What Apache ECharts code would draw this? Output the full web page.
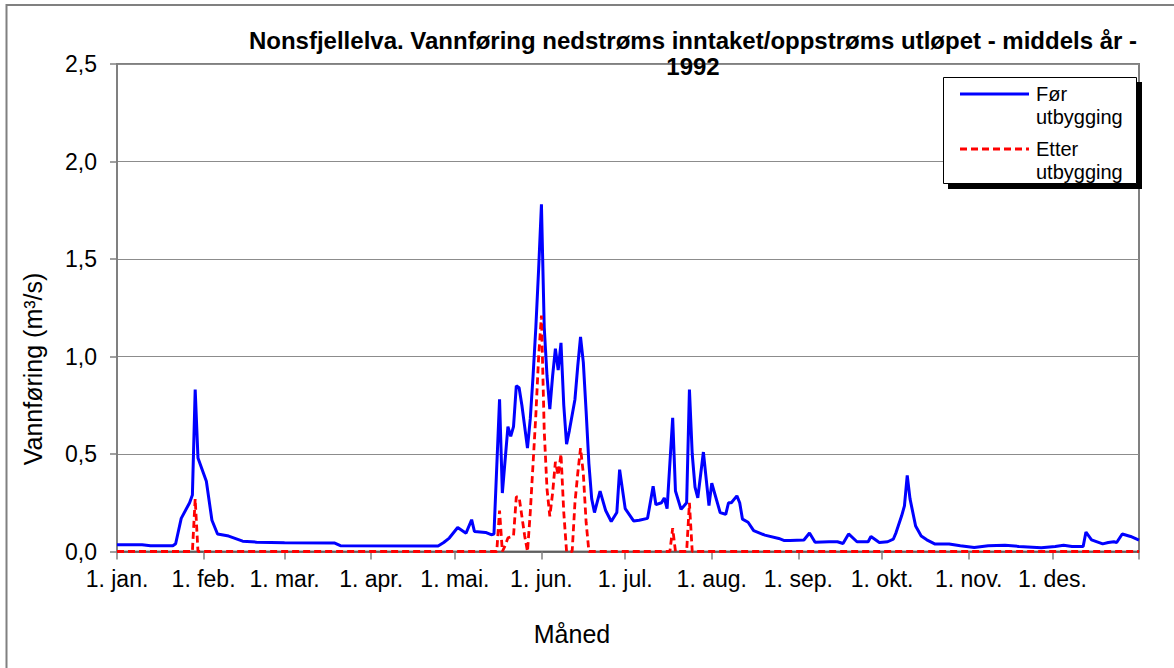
<!DOCTYPE html>
<html>
<head>
<meta charset="utf-8">
<script src="https://cdn.jsdelivr.net/npm/echarts@6/dist/echarts.min.js"></script>
<style>
  html, body { margin: 0; padding: 0; background: #fff; }
  #chart { width: 1174px; height: 668px; }
</style>
</head>
<body>
<div id="chart"></div>
<script>
// Day-of-year (1992, leap year) where each month starts, and the axis labels
const monthStarts = [0, 31, 60, 91, 121, 152, 182, 213, 244, 274, 305, 335, 366];
const monthLabels = ['1. jan.', '1. feb.', '1. mar.', '1. apr.', '1. mai.', '1. jun.',
                     '1. jul.', '1. aug.', '1. sep.', '1. okt.', '1. nov.', '1. des.'];
const yTicks = [0, 0.5, 1.0, 1.5, 2.0, 2.5];

// Discharge before development (m³/s), day of year -> value
const forDays = [0, 9, 12, 20, 21, 23, 26, 27, 28, 29, 31, 32, 34, 36, 40, 45, 50, 60, 78, 80,
  115, 117, 119, 122, 125, 127, 128, 132, 134, 135, 137, 138, 140, 141, 142, 143, 144, 145, 147,
  148, 149, 150, 151, 152, 153, 154, 155, 156, 157, 158, 159, 160, 161, 162, 164, 165, 166, 167,
  168, 169, 170, 171, 173, 175, 177, 179, 180, 182, 185, 187, 190, 192, 193, 195, 196, 197, 199,
  200, 202, 204, 205, 206, 207, 208, 210, 212, 213, 216, 218, 219, 220, 222, 223, 224, 226, 228,
  232, 237, 239, 241, 246, 248, 250, 255, 258, 260, 262, 265, 269, 270, 273, 276, 278, 279, 281,
  282, 283, 284, 286, 288, 290, 293, 298, 302, 307, 312, 318, 323, 331, 336, 339, 342, 346, 347,
  349, 353, 355, 357, 358, 360, 363, 366];
const forValues = [0.035, 0.035, 0.03, 0.03, 0.04, 0.17, 0.25, 0.29, 0.83, 0.48, 0.40, 0.36, 0.16,
  0.09, 0.079, 0.053, 0.048, 0.045, 0.043, 0.03,
  0.028, 0.046, 0.069, 0.123, 0.094, 0.163, 0.103, 0.098, 0.086, 0.09, 0.78, 0.30, 0.64, 0.59,
  0.64, 0.85, 0.84, 0.75, 0.53,
  0.68, 0.90, 1.15, 1.45, 1.78, 1.15, 0.90, 0.73, 0.90, 1.04, 0.93, 1.07, 0.75, 0.55, 0.62, 0.78,
  0.95, 1.10, 0.97,
  0.72, 0.45, 0.27, 0.20, 0.31, 0.21, 0.154, 0.20, 0.42, 0.22, 0.157, 0.16, 0.17, 0.335, 0.24,
  0.25, 0.275, 0.22, 0.685,
  0.31, 0.216, 0.25, 0.83, 0.50, 0.33, 0.275, 0.51, 0.235, 0.35, 0.20, 0.19, 0.25, 0.25, 0.285,
  0.25, 0.166, 0.15, 0.107,
  0.084, 0.067, 0.056, 0.056, 0.059, 0.095, 0.047, 0.05, 0.05, 0.041, 0.09, 0.05, 0.05, 0.077,
  0.046, 0.05, 0.063, 0.097, 0.183,
  0.234, 0.39, 0.27, 0.131, 0.08, 0.060, 0.038, 0.038, 0.029, 0.02, 0.029, 0.032, 0.026, 0.019,
  0.026, 0.032, 0.026, 0.026, 0.10,
  0.06, 0.039, 0.046, 0.05, 0.046, 0.09, 0.077, 0.058];

// Discharge after development (m³/s), day of year -> value
const etterDays = [0, 27, 28, 29, 136, 137, 138, 139, 140, 142, 143, 144, 146, 147, 148, 149, 150,
  151, 152, 153, 154, 155, 156, 157, 158, 159, 160, 161, 163, 164, 165, 166, 167, 168, 169,
  198, 199, 200, 204, 205, 206, 366];
const etterValues = [0, 0, 0.27, 0, 0, 0.21, 0, 0.03, 0.07, 0.08, 0.28, 0.28, 0.08, 0, 0.2, 0.45, 0.7,
  1.0, 1.21, 0.62, 0.32, 0.18, 0.3, 0.46, 0.39, 0.50, 0.2, 0, 0, 0.25, 0.4, 0.53, 0.40, 0.15, 0,
  0, 0.12, 0, 0, 0.25, 0, 0];

const pair = (xs, ys) => xs.map((d, i) => [d, ys[i]]);

const FONT = "'Liberation Sans', Arial, sans-serif";
const chart = echarts.init(document.getElementById('chart'), null, { renderer: 'svg' });

chart.setOption({
  backgroundColor: '#ffffff',
  animation: false,
  textStyle: { fontFamily: FONT, color: '#000' },
  grid: {
    left: 117, top: 64, right: 35, bottom: 116.5,
    show: true, borderColor: '#808080', borderWidth: 2, backgroundColor: '#ffffff'
  },
  xAxis: {
    type: 'value',
    min: 0, max: 366,
    splitLine: { show: false },
    axisLine: { show: true, onZero: false, lineStyle: { color: '#505050', width: 1.5 } },
    axisTick: { show: true, length: 8, customValues: monthStarts,
                lineStyle: { color: '#808080', width: 1.5 } },
    axisLabel: {
      customValues: monthStarts.slice(0, 12),
      formatter: v => monthLabels[monthStarts.indexOf(v)],
      fontFamily: FONT, fontSize: 23, color: '#000', margin: 16
    }
  },
  yAxis: {
    type: 'value',
    min: yTicks[0], max: yTicks[yTicks.length - 1], interval: 0.5,
    axisLine: { show: true, lineStyle: { color: '#808080', width: 2 } },
    axisTick: { show: true, length: 7, lineStyle: { color: '#808080', width: 1.5 } },
    splitLine: { show: true, lineStyle: { color: '#8c8c8c', width: 1 } },
    axisLabel: {
      formatter: v => v.toFixed(1).replace('.', ','),
      fontFamily: FONT, fontSize: 23, color: '#000', margin: 20
    }
  },
  series: [
    {
      name: 'Før utbygging',
      type: 'line',
      data: pair(forDays, forValues),
      symbol: 'none',
      lineStyle: { color: '#0000ff', width: 3 },
      z: 3
    },
    {
      name: 'Etter utbygging',
      type: 'line',
      data: pair(etterDays, etterValues),
      symbol: 'none',
      lineStyle: { color: '#ff0000', width: 2.8, type: [7, 4] },
      z: 4
    }
  ],
  graphic: [
    // outer frame
    { type: 'polyline', z: 1, silent: true,
      shape: { points: [[6.5, 668], [6.5, 5], [1174, 5]] },
      style: { stroke: '#808080', lineWidth: 2, fill: null } },
    // title
    { type: 'text', z: 10, x: 693, y: 53,
      style: { text: 'Nonsfjellelva. Vannføring nedstrøms inntaket/oppstrøms utløpet - middels år -\n1992',
               font: 'bold 24px ' + FONT, fill: '#000', align: 'center', verticalAlign: 'middle',
               lineHeight: 26 } },
    // axis titles
    { type: 'text', z: 10, x: 33, y: 369, rotation: Math.PI / 2,
      style: { text: 'Vannføring (m³/s)', font: '25px ' + FONT, fill: '#000',
               align: 'center', verticalAlign: 'middle' } },
    { type: 'text', z: 10, x: 572, y: 634,
      style: { text: 'Måned', font: '25px ' + FONT, fill: '#000',
               align: 'center', verticalAlign: 'middle' } },
    // legend box with drop shadow
    { type: 'rect', z: 20, shape: { x: 948, y: 82, width: 194, height: 107 },
      style: { fill: '#000' } },
    { type: 'rect', z: 21, shape: { x: 943.5, y: 77.5, width: 193, height: 106 },
      style: { fill: '#fff', stroke: '#000', lineWidth: 1 } },
    { type: 'line', z: 22, shape: { x1: 960, y1: 94, x2: 1029, y2: 94 },
      style: { stroke: '#0000ff', lineWidth: 3 } },
    { type: 'text', z: 22, x: 1036, y: 82.5,
      style: { text: 'Før\nutbygging', font: '20px ' + FONT, fill: '#000',
               align: 'left', verticalAlign: 'top', lineHeight: 23 } },
    { type: 'line', z: 22, shape: { x1: 960, y1: 149, x2: 1029, y2: 149 },
      style: { stroke: '#ff0000', lineWidth: 2.8, lineDash: [7, 4] } },
    { type: 'text', z: 22, x: 1036, y: 137.5,
      style: { text: 'Etter\nutbygging', font: '20px ' + FONT, fill: '#000',
               align: 'left', verticalAlign: 'top', lineHeight: 23 } }
  ]
});
</script>
</body>
</html>
